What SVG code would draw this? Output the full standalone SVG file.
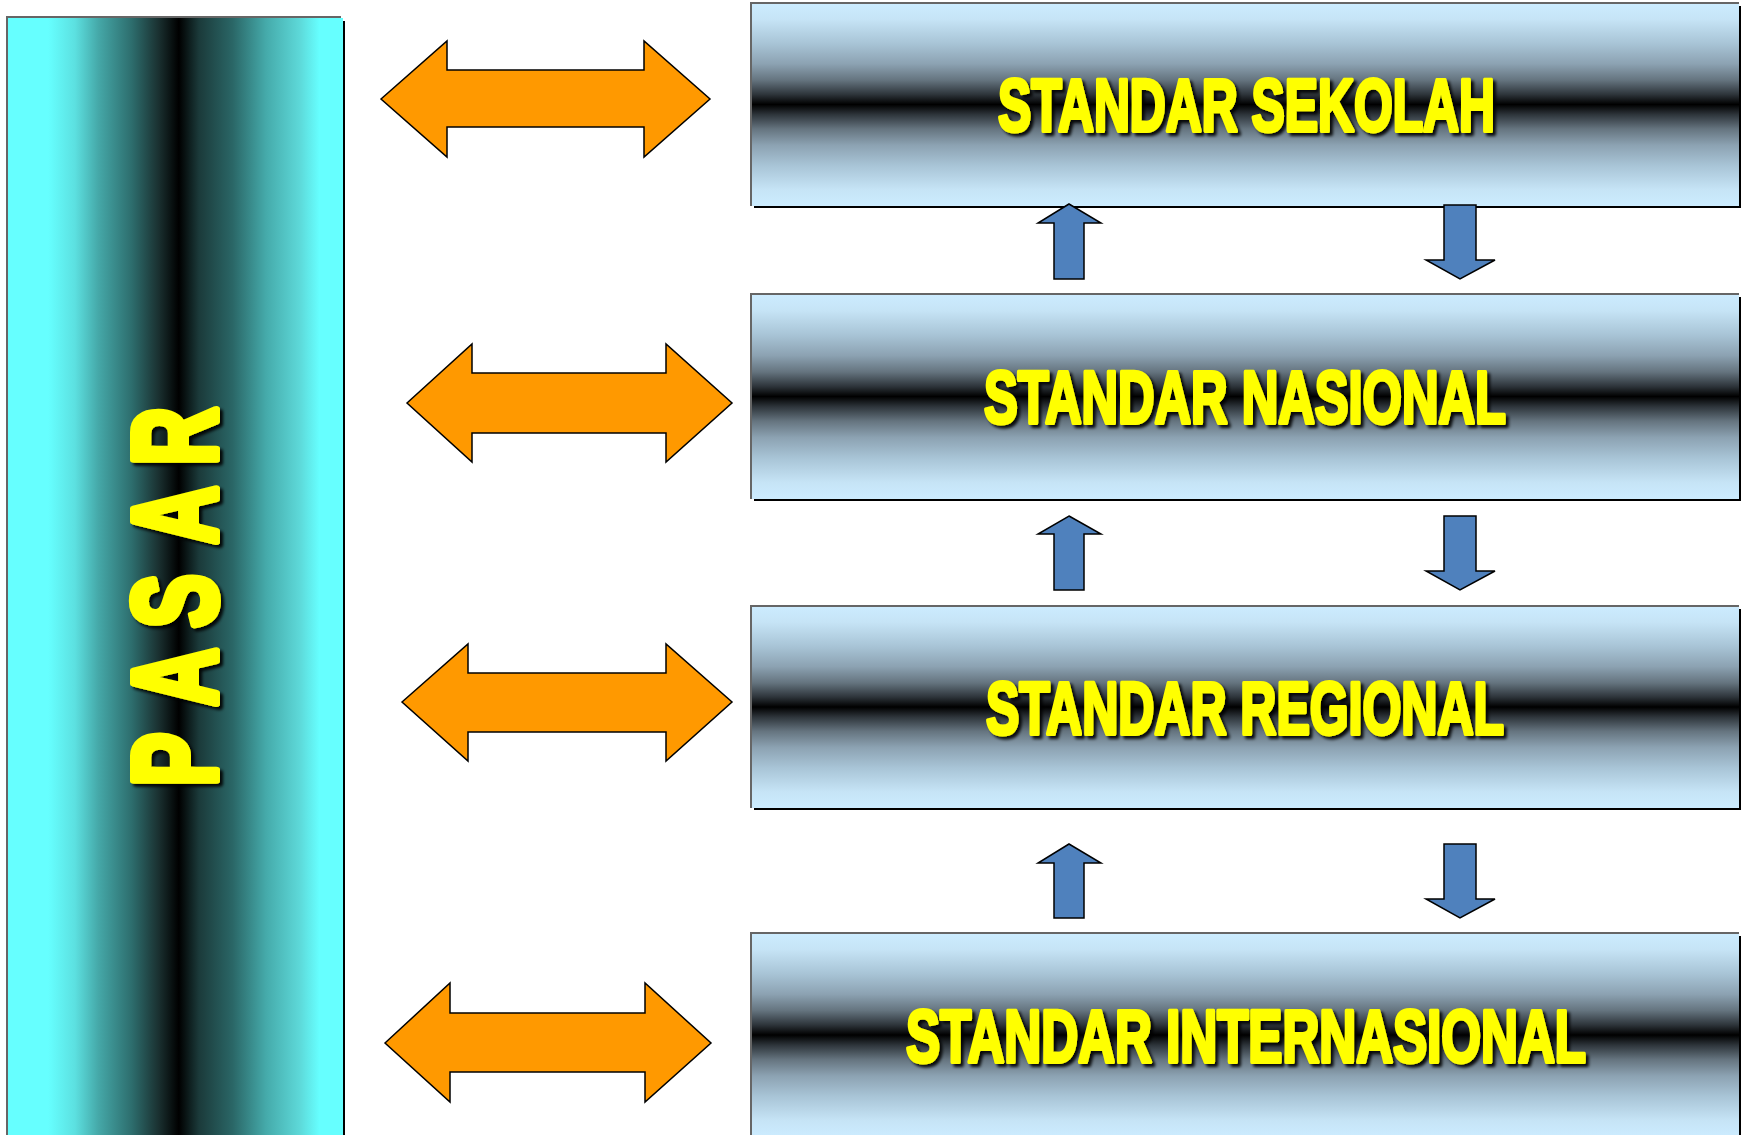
<svg xmlns="http://www.w3.org/2000/svg" width="1744" height="1135" viewBox="0 0 1744 1135">
  <defs>
    <linearGradient id="gBox" x1="0" y1="0" x2="0" y2="1">
      <stop offset="0" stop-color="#CCECFF"/>
      <stop offset="0.08" stop-color="#C6E4F6"/>
      <stop offset="0.2" stop-color="#A8C4D6"/>
      <stop offset="0.3" stop-color="#8CA2B2"/>
      <stop offset="0.38" stop-color="#65747F"/>
      <stop offset="0.45" stop-color="#2E353B"/>
      <stop offset="0.5" stop-color="#000000"/>
      <stop offset="0.55" stop-color="#2E353B"/>
      <stop offset="0.62" stop-color="#65747F"/>
      <stop offset="0.7" stop-color="#8CA2B2"/>
      <stop offset="0.8" stop-color="#A8C4D6"/>
      <stop offset="0.92" stop-color="#C6E4F6"/>
      <stop offset="1" stop-color="#CCECFF"/>
    </linearGradient>
    <linearGradient id="gPasar" x1="0" y1="0" x2="1" y2="0">
      <stop offset="0" stop-color="#66FFFF"/>
      <stop offset="0.12" stop-color="#66FFFF"/>
      <stop offset="0.2" stop-color="#5CE0E0"/>
      <stop offset="0.27" stop-color="#45A8A8"/>
      <stop offset="0.37" stop-color="#2D6D6D"/>
      <stop offset="0.45" stop-color="#1A3030"/>
      <stop offset="0.51" stop-color="#000000"/>
      <stop offset="0.57" stop-color="#1B3A3A"/>
      <stop offset="0.67" stop-color="#2A6666"/>
      <stop offset="0.77" stop-color="#45AAAA"/>
      <stop offset="0.87" stop-color="#5DD8D8"/>
      <stop offset="0.93" stop-color="#66FFFF"/>
      <stop offset="1" stop-color="#66FFFF"/>
    </linearGradient>
    <filter id="shadow" x="-15%" y="-40%" width="130%" height="190%">
      <feDropShadow dx="3" dy="3" stdDeviation="1.5" flood-color="#000" flood-opacity="0.9"/>
    </filter>
    <style>
      .shadowRect { fill: #000; }
      .edge { fill: none; stroke: #666666; stroke-width: 2; }
      .label { font-family: "Liberation Sans", Arial, sans-serif; font-weight: bold; fill: #FFFF00; stroke: #FFFF00; stroke-width: 4; stroke-linejoin: round; }
      .big { stroke-width: 8; }
      .dbl { fill: #FF9900; stroke: #000; stroke-width: 1.5; stroke-linejoin: miter; }
      .vert { fill: #4F81BD; stroke: #000; stroke-width: 1.5; stroke-linejoin: miter; }
    </style>
  </defs>
  <rect x="0" y="0" width="1744" height="1135" fill="#FFFFFF"/>

  <g id="pasar">
    <rect x="342" y="21" width="3" height="1114" class="shadowRect"/>
    <rect x="8" y="18" width="335" height="1117" fill="url(#gPasar)"/>
    <path d="M7,1135 V17 H341" class="edge"/>
    <g filter="url(#shadow)">
      <text class="label big" font-size="119" transform="translate(216,783) rotate(-90) scale(0.68,1)" x="-5 113 228 351 467" y="0">PASAR</text>
    </g>
  </g>

  <g id="box-sekolah">
    <rect x="754" y="6" width="987" height="202" class="shadowRect"/>
    <rect x="751" y="3" width="988" height="203" fill="url(#gBox)"/>
    <path d="M751,206 V3 H1739" class="edge"/>
    <g filter="url(#shadow)">
      <text class="label" font-size="74" x="1246.5" y="131" text-anchor="middle" textLength="497" lengthAdjust="spacingAndGlyphs">STANDAR SEKOLAH</text>
    </g>
  </g>

  <g id="box-nasional">
    <rect x="754" y="297" width="987" height="204" class="shadowRect"/>
    <rect x="751" y="294" width="988" height="205" fill="url(#gBox)"/>
    <path d="M751,499 V294 H1739" class="edge"/>
    <g filter="url(#shadow)">
      <text class="label" font-size="74" x="1245" y="423" text-anchor="middle" textLength="522" lengthAdjust="spacingAndGlyphs">STANDAR NASIONAL</text>
    </g>
  </g>

  <g id="box-regional">
    <rect x="754" y="609" width="987" height="201" class="shadowRect"/>
    <rect x="751" y="606" width="988" height="202" fill="url(#gBox)"/>
    <path d="M751,808 V606 H1739" class="edge"/>
    <g filter="url(#shadow)">
      <text class="label" font-size="74" x="1245" y="734" text-anchor="middle" textLength="518" lengthAdjust="spacingAndGlyphs">STANDAR REGIONAL</text>
    </g>
  </g>

  <g id="box-internasional">
    <rect x="754" y="936" width="987" height="204" class="shadowRect"/>
    <rect x="751" y="933" width="988" height="204" fill="url(#gBox)"/>
    <path d="M751,1137 V933 H1739" class="edge"/>
    <g filter="url(#shadow)">
      <text class="label" font-size="74" x="1246" y="1062" text-anchor="middle" textLength="680" lengthAdjust="spacingAndGlyphs">STANDAR INTERNASIONAL</text>
    </g>
  </g>

  <g id="connectors">
    <polygon class="dbl" points="381,99 447,41 447,70 644,70 644,41 710,99 644,157 644,127 447,127 447,157"/>
    <polygon class="dbl" points="407,403 472,344 472,373 666,373 666,344 732,403 666,462 666,433 472,433 472,462"/>
    <polygon class="dbl" points="402,702 468,644 468,673 666,673 666,644 732,702 666,761 666,732 468,732 468,761"/>
    <polygon class="dbl" points="385,1043 450,983 450,1013 645,1013 645,983 711,1043 645,1102 645,1072 450,1072 450,1102"/>

    <polygon class="vert" points="1069,204 1101,223 1084,223 1084,279 1054,279 1054,223 1038,223"/>
    <polygon class="vert" points="1444,205 1476,205 1476,260 1495,260 1460,279 1426,260 1444,260"/>
    <polygon class="vert" points="1069,516 1101,534 1084,534 1084,590 1054,590 1054,534 1038,534"/>
    <polygon class="vert" points="1444,516 1476,516 1476,571 1495,571 1460,590 1426,571 1444,571"/>
    <polygon class="vert" points="1069,844 1101,863 1084,863 1084,918 1054,918 1054,863 1038,863"/>
    <polygon class="vert" points="1444,844 1476,844 1476,899 1495,899 1460,918 1426,899 1444,899"/>
  </g>
</svg>
